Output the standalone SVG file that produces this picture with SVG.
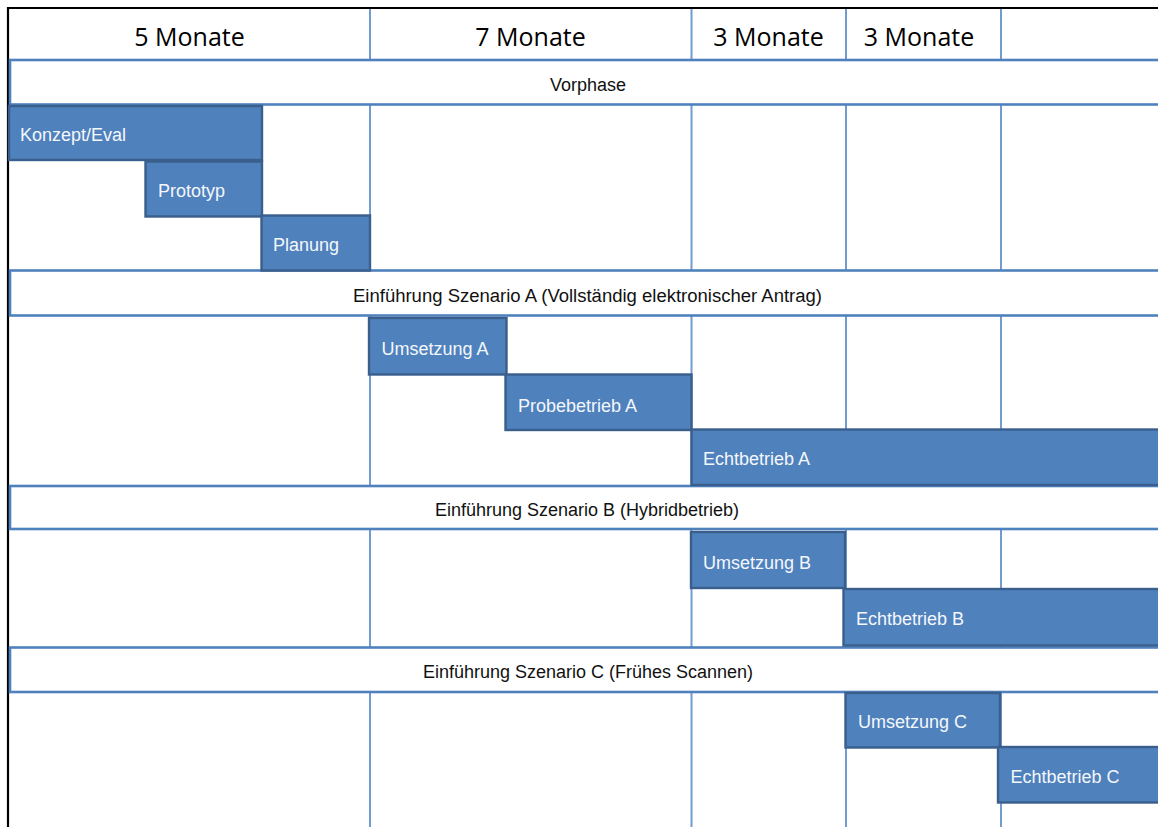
<svg xmlns="http://www.w3.org/2000/svg" width="1158" height="827" viewBox="0 0 1158 827">
  <style>
    .grid { stroke: #729bd0; stroke-width: 2; fill: none; }
    .frame { stroke: #000; stroke-width: 2.2; fill: none; }
    .band { fill: #fff; stroke: #4f81bd; stroke-width: 2.6; }
    .bar { fill: #4f81bd; stroke: #3a5f8c; stroke-width: 2.4; }
    .head { font-family: "Open Sans", "Noto Sans", sans-serif; font-size: 25px; fill: #000; text-anchor: middle; }
    .bandtxt { font-family: "Liberation Sans", Arial, sans-serif; font-size: 18px; fill: #111; text-anchor: middle; }
    .bartxt { font-family: "Liberation Sans", Arial, sans-serif; font-size: 18px; fill: #f4f7fb; }
  </style>
  <rect width="1158" height="827" fill="#fff"/>

  <!-- month columns -->
  <g id="grid">
    <line class="grid" x1="370" y1="8" x2="370" y2="827"/>
    <line class="grid" x1="691.5" y1="8" x2="691.5" y2="827"/>
    <line class="grid" x1="846" y1="8" x2="846" y2="827"/>
    <line class="grid" x1="1001" y1="8" x2="1001" y2="827"/>
    <line class="frame" x1="7" y1="8" x2="1158" y2="8"/>
    <line class="frame" x1="8" y1="7" x2="8" y2="827"/>
  </g>

  <!-- header -->
  <g id="header">
    <text class="head" x="189.5" y="46">5 Monate</text>
    <text class="head" x="530.5" y="46">7 Monate</text>
    <text class="head" x="768.5" y="46">3 Monate</text>
    <text class="head" x="919" y="46">3 Monate</text>
  </g>

  <!-- phase bands -->
  <g id="band-vorphase">
    <rect class="band" x="10" y="60" width="1160" height="44.5"/>
    <text class="bandtxt" x="588" y="91">Vorphase</text>
  </g>
  <g id="band-a">
    <rect class="band" x="10" y="270.5" width="1160" height="45"/>
    <text class="bandtxt" x="587.5" y="301.5" textLength="469" lengthAdjust="spacingAndGlyphs">Einführung Szenario A (Vollständig elektronischer Antrag)</text>
  </g>
  <g id="band-b">
    <rect class="band" x="10" y="486" width="1160" height="43"/>
    <text class="bandtxt" x="587" y="516">Einführung Szenario B (Hybridbetrieb)</text>
  </g>
  <g id="band-c">
    <rect class="band" x="10" y="647.5" width="1160" height="44.5"/>
    <text class="bandtxt" x="588" y="678">Einführung Szenario C (Frühes Scannen)</text>
  </g>

  <!-- tasks -->
  <g id="konzept">
    <rect class="bar" x="9" y="106" width="253" height="54"/>
    <text class="bartxt" x="20" y="141">Konzept/Eval</text>
  </g>
  <g id="prototyp">
    <rect class="bar" x="145.5" y="161.5" width="116.5" height="55"/>
    <text class="bartxt" x="158" y="197">Prototyp</text>
  </g>
  <g id="planung">
    <rect class="bar" x="261.5" y="215.5" width="108.5" height="55"/>
    <text class="bartxt" x="273" y="250.5">Planung</text>
  </g>
  <g id="umsetzung-a">
    <rect class="bar" x="369" y="318" width="137.5" height="56.5"/>
    <text class="bartxt" x="381.5" y="355">Umsetzung A</text>
  </g>
  <g id="probebetrieb-a">
    <rect class="bar" x="505.5" y="374.5" width="186" height="55.5"/>
    <text class="bartxt" x="518" y="411.5">Probebetrieb A</text>
  </g>
  <g id="echtbetrieb-a">
    <rect class="bar" x="691.5" y="429.5" width="480" height="55.5"/>
    <text class="bartxt" x="703" y="465">Echtbetrieb A</text>
  </g>
  <g id="umsetzung-b">
    <rect class="bar" x="691" y="532" width="154" height="56"/>
    <text class="bartxt" x="703" y="569">Umsetzung B</text>
  </g>
  <g id="echtbetrieb-b">
    <rect class="bar" x="843.5" y="589" width="330" height="56.5"/>
    <text class="bartxt" x="856" y="625">Echtbetrieb B</text>
  </g>
  <g id="umsetzung-c">
    <rect class="bar" x="845.5" y="693" width="154.5" height="54.5"/>
    <text class="bartxt" x="858" y="728">Umsetzung C</text>
  </g>
  <g id="echtbetrieb-c">
    <rect class="bar" x="998" y="747" width="175" height="55.5"/>
    <text class="bartxt" x="1010.5" y="783">Echtbetrieb C</text>
  </g>
</svg>
